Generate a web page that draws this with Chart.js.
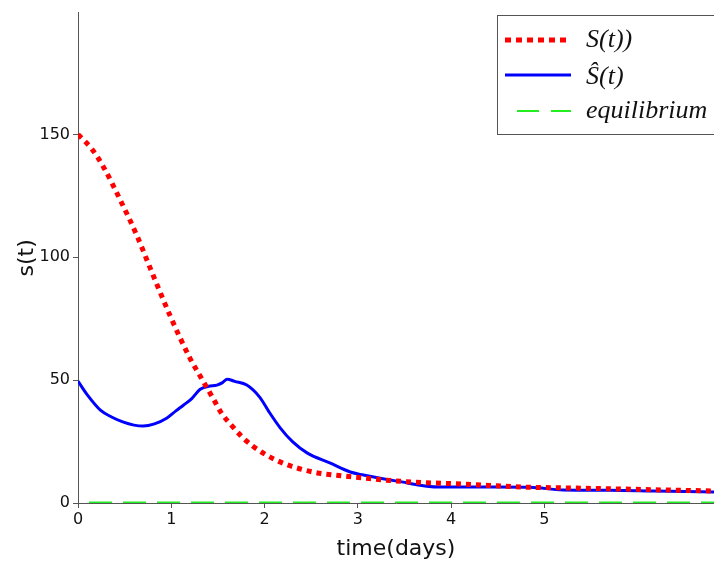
<!DOCTYPE html>
<html>
<head>
<meta charset="utf-8">
<script src="https://cdn.jsdelivr.net/npm/chart.js@4.4.0/dist/chart.umd.min.js"></script>
<style>
html,body{margin:0;padding:0;background:#fff;}
#wrap{width:714px;height:562px;position:relative;}
</style>
</head>
<body>
<div id="wrap"><canvas id="c" width="714" height="562"></canvas></div>
<script>
// Data
const redT = [0, 0.15, 0.27, 0.47, 0.63, 0.77, 0.99, 1.2, 1.32, 1.45, 1.54, 1.66, 1.77, 1.88, 2.0, 2.2, 2.52, 2.84, 3.06, 3.3, 3.6, 4.13, 4.77, 5.3, 5.82, 6.3, 6.82];
const redV = [150, 144, 137, 122, 109, 96, 76, 59, 51, 42.5, 36.5, 31, 26.5, 23, 20, 16.2, 12.6, 11, 10.2, 9.3, 8.5, 7.7, 6.5, 6.1, 5.7, 5.3, 4.9];
const blueT = [0, 0.1, 0.24, 0.36, 0.48, 0.6, 0.70, 0.82, 0.95, 1.05, 1.13, 1.22, 1.31, 1.4, 1.49, 1.55, 1.6, 1.68, 1.81, 1.95, 2.05, 2.17, 2.3, 2.46, 2.7, 2.92, 3.06, 3.42, 3.88, 4.5, 4.85, 5.2, 5.7, 6.17, 6.82];
const blueV = [49.6, 44, 37.8, 35, 33, 31.7, 31.3, 32.2, 34.5, 37.5, 39.8, 42.5, 46.3, 47.5, 48, 49, 50.4, 49.5, 48, 43, 37, 30.5, 25, 20.3, 16.3, 12.6, 11.4, 8.9, 6.5, 6.5, 6.4, 5.3, 5.2, 4.9, 4.5];
const eqT = [0, 6.82];
const eqV = [0, 0];
const xTicks = [0, 1, 2, 3, 4, 5];
const yTicks = [0, 50, 100, 150];
const xMax = 6.82;
const yMax = 199.6;
const seriesLabels = ['S(t))', 'Ŝ(t)', 'equilibrium'];

const pts = (t, v) => t.map((x, i) => ({x: x, y: v[i]}));
const axisColor = '#555555';
const tickFont = {family: 'DejaVu Sans', size: 16};

const legendPlugin = {
  id: 'customLegend',
  afterDraw(chart) {
    const ctx = chart.ctx;
    ctx.save();
    ctx.fillStyle = '#fff';
    ctx.fillRect(497, 15, 240, 119);
    ctx.strokeStyle = axisColor;
    ctx.lineWidth = 1;
    ctx.strokeRect(497.5, 15.5, 240, 119);
    const rows = [
      {y: 40, ty: 40, color: '#ff0000', w: 5, dash: [6, 5], off: 0},
      {y: 75, ty: 77, color: '#0000ff', w: 3, dash: [], off: 0},
      {y: 111, ty: 111, color: '#22ee22', w: 2, dash: [22, 12], off: 22}
    ];
    rows.forEach((r, i) => {
      ctx.beginPath();
      ctx.setLineDash(r.dash);
      ctx.lineDashOffset = r.off;
      ctx.strokeStyle = r.color;
      ctx.lineWidth = r.w;
      ctx.lineCap = 'butt';
      ctx.moveTo(505, r.y);
      ctx.lineTo(571, r.y);
      ctx.stroke();
      ctx.setLineDash([]);
      ctx.fillStyle = '#111';
      ctx.font = 'italic 26px "Liberation Serif"';
      ctx.textBaseline = 'middle';
      ctx.textAlign = 'left';
      ctx.fillText(seriesLabels[i], 586, r.ty);
    });
    ctx.restore();
  }
};

new Chart(document.getElementById('c'), {
  type: 'line',
  data: {
    datasets: [
      {label: seriesLabels[0], data: pts(redT, redV), borderColor: '#ff0000', borderWidth: 5, borderDash: [5, 5], pointRadius: 0, cubicInterpolationMode: 'monotone', fill: false},
      {label: seriesLabels[1], data: pts(blueT, blueV), borderColor: '#0000ff', borderWidth: 3, pointRadius: 0, cubicInterpolationMode: 'monotone', fill: false},
      {label: seriesLabels[2], data: pts(eqT, eqV), borderColor: '#22ee22', borderWidth: 3, borderDash: [23, 11], borderDashOffset: 23, pointRadius: 0, fill: false}
    ]
  },
  options: {
    responsive: false,
    animation: false,
    layout: {padding: {top: 12, right: 0, left: 0, bottom: 0}},
    plugins: {legend: {display: false}, tooltip: {enabled: false}},
    scales: {
      x: {
        type: 'linear', min: 0, max: xMax,
        afterBuildTicks: s => { s.ticks = xTicks.map(v => ({value: v})); },
        afterFit: s => { s.height = 59; },
        grid: {drawOnChartArea: false, drawTicks: true, tickLength: 5, color: axisColor},
        border: {color: axisColor, width: 1},
        ticks: {color: '#111', font: tickFont, padding: 2, maxRotation: 0},
        title: {display: true, text: 'time(days)', color: '#111', font: {family: 'DejaVu Sans', size: 22}, padding: {top: 4, bottom: 0}}
      },
      y: {
        type: 'linear', min: 0, max: yMax,
        afterBuildTicks: s => { s.ticks = yTicks.map(v => ({value: v})); },
        afterFit: s => { s.width = 78; },
        grid: {drawOnChartArea: false, drawTicks: true, tickLength: 5, color: axisColor},
        border: {color: axisColor, width: 1},
        ticks: {color: '#111', font: tickFont, padding: 3},
        title: {display: true, text: 's(t)', color: '#111', font: {family: 'DejaVu Sans', size: 22}, padding: {top: 14, bottom: 0}}
      }
    }
  },
  plugins: [legendPlugin]
});
</script>
</body>
</html>
